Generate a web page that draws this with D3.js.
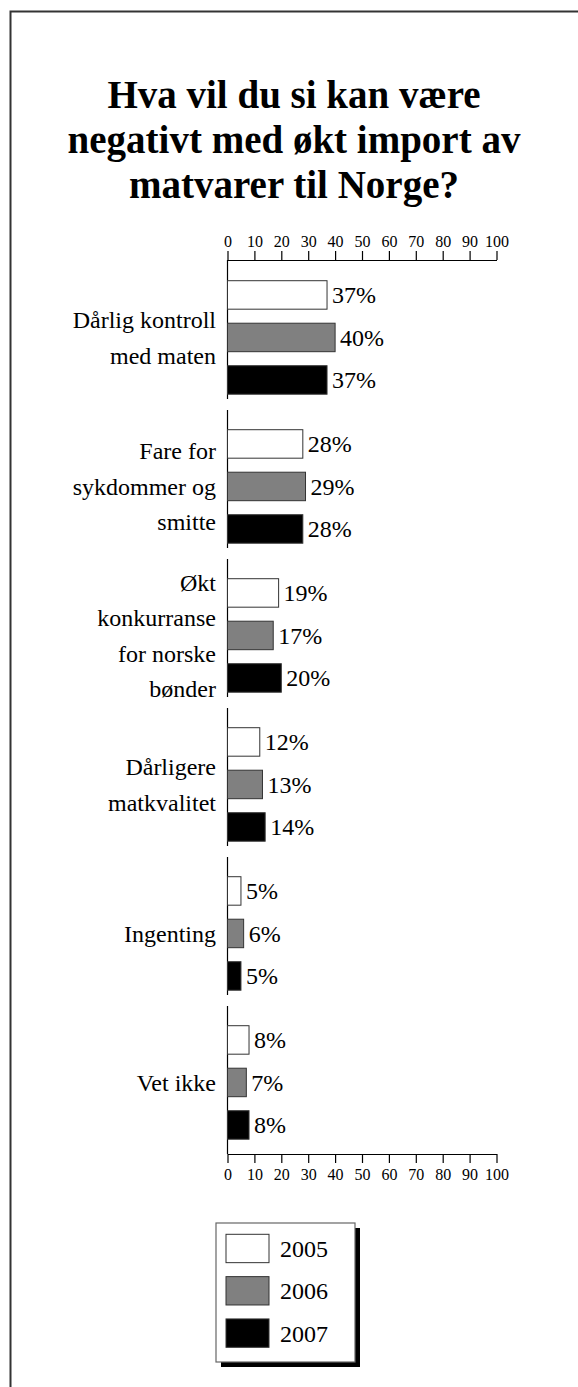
<!DOCTYPE html>
<html>
<head>
<meta charset="utf-8">
<script src="https://cdn.jsdelivr.net/npm/d3@7"></script>
</head>
<body style="margin:0">
<svg id="fig" width="578" height="1387"></svg>
<script>
// data
const categories = [
  ['Dårlig kontroll', 'med maten'],
  ['Fare for', 'sykdommer og', 'smitte'],
  ['Økt', 'konkurranse', 'for norske', 'bønder'],
  ['Dårligere', 'matkvalitet'],
  ['Ingenting'],
  ['Vet ikke']
];
const years = ['2005', '2006', '2007'];
const values2005 = [37, 28, 19, 12, 5, 8];
const values2006 = [40, 29, 17, 13, 6, 7];
const values2007 = [37, 28, 20, 14, 5, 8];
const tickValues = [0, 10, 20, 30, 40, 50, 60, 70, 80, 90, 100];
const colors = ['#ffffff', '#808080', '#000000'];

const FONT = 'Liberation Serif';
const svg = d3.select('#fig');
const series = [values2005, values2006, values2007];

// outer frame (top and left only)
svg.append('path')
    .attr('d', 'M10.5,1387 L10.5,11.5 L578,11.5')
    .attr('fill', 'none')
    .attr('stroke', '#333')
    .attr('stroke-width', 2);

// title
const titleLines = ['Hva vil du si kan være', 'negativt med økt import av', 'matvarer til Norge?'];
svg.append('g').selectAll('text').data(titleLines).enter().append('text')
    .attr('x', 294)
    .attr('y', (d, i) => 108 + i * 45)
    .attr('text-anchor', 'middle')
    .attr('font-family', FONT)
    .attr('font-weight', 'bold')
    .attr('font-size', 39)
    .text(d => d);

const x = d3.scaleLinear().domain([0, 100]).range([227.5, 496.5]);
const yGroup = d3.scaleBand().domain(d3.range(categories.length)).range([260, 1154]);
const yBar = d3.scaleBand().domain(years).range([20.7, 134.2]).paddingInner(0.33);

// axes
const topAxis = d3.axisTop(x).tickValues(tickValues).tickSize(9).tickSizeOuter(0).tickPadding(4);
const bottomAxis = d3.axisBottom(x).tickValues(tickValues).tickSize(9).tickSizeOuter(0).tickPadding(6);

function styleAxis(g) {
  g.attr('font-family', FONT).attr('font-size', 16);
  g.select('.domain').attr('stroke', '#000').attr('stroke-width', 1.2);
  g.selectAll('.tick line').attr('stroke', '#000').attr('stroke-width', 1.2);
  g.selectAll('.tick text').attr('fill', '#000');
}

svg.append('g').attr('transform', 'translate(0,260)').call(topAxis).call(styleAxis);
svg.append('g').attr('transform', 'translate(0,1154)').call(bottomAxis).call(styleAxis);

// groups
const groups = svg.append('g').selectAll('g.group').data(categories).enter().append('g')
    .attr('class', 'group')
    .attr('transform', (d, i) => 'translate(0,' + yGroup(i) + ')');

groups.append('line')
    .attr('x1', x(0)).attr('x2', x(0))
    .attr('y1', (d, i) => i === 0 ? 0 : 1)
    .attr('y2', (d, i) => i === categories.length - 1 ? yGroup.bandwidth() : yGroup.bandwidth() - 10)
    .attr('stroke', '#000')
    .attr('stroke-width', 1.2);

const bars = groups.selectAll('g.bar')
    .data((d, i) => years.map((yr, j) => ({ year: yr, j: j, value: series[j][i] })))
    .enter().append('g')
    .attr('class', 'bar');

bars.append('rect')
    .attr('x', x(0))
    .attr('y', d => yBar(d.year))
    .attr('width', d => x(d.value) - x(0))
    .attr('height', yBar.bandwidth())
    .attr('fill', d => colors[d.j])
    .attr('stroke', '#333')
    .attr('stroke-width', 1);

bars.append('text')
    .attr('x', d => x(d.value) + 5)
    .attr('y', d => yBar(d.year) + yBar.bandwidth() / 2)
    .attr('dy', '0.35em')
    .attr('font-family', FONT)
    .attr('font-size', 24)
    .text(d => d.value + '%');

// category labels
const barMid = (yBar('2005') + yBar('2007') + yBar.bandwidth()) / 2;
groups.append('text')
    .attr('text-anchor', 'end')
    .attr('font-family', FONT)
    .attr('font-size', 24)
    .each(function(lines) {
      const t = d3.select(this);
      const lh = 35.5;
      const top = barMid - (lines.length - 1) * lh / 2;
      lines.forEach((ln, k) => {
        t.append('tspan')
            .attr('x', 216)
            .attr('y', top + k * lh)
            .attr('dy', '0.35em')
            .text(ln);
      });
    });

// legend
const legend = svg.append('g').attr('transform', 'translate(216,1223)');
legend.append('rect')
    .attr('x', 5).attr('y', 5).attr('width', 139).attr('height', 139)
    .attr('fill', '#000');
legend.append('rect')
    .attr('x', 0).attr('y', 0).attr('width', 139).attr('height', 139)
    .attr('fill', '#fff')
    .attr('stroke', '#666')
    .attr('stroke-width', 1.2);

const yLeg = d3.scaleBand().domain(years).range([11.3, 124.3]).paddingInner(0.33);
const items = legend.selectAll('g.item').data(years).enter().append('g').attr('class', 'item');
items.append('rect')
    .attr('x', 10).attr('y', d => yLeg(d))
    .attr('width', 43).attr('height', yLeg.bandwidth())
    .attr('fill', (d, i) => colors[i])
    .attr('stroke', '#333')
    .attr('stroke-width', 1);
items.append('text')
    .attr('x', 64)
    .attr('y', d => yLeg(d) + yLeg.bandwidth() / 2)
    .attr('dy', '0.35em')
    .attr('font-family', FONT)
    .attr('font-size', 24)
    .text(d => d);
</script>
</body>
</html>
